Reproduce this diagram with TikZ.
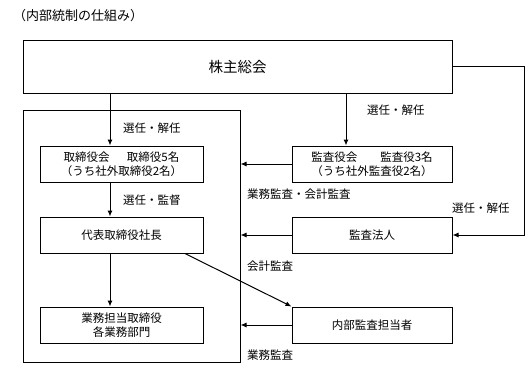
\documentclass[tikz,border=0pt]{standalone}
\usepackage{fontspec}
\setmainfont{Noto Sans CJK JP}
\usetikzlibrary{arrows.meta}
\tikzset{
  box/.style={draw=black, line width=1pt, rectangle, inner sep=0pt, align=center,
    font=\fontsize{11.5}{13.5}\selectfont},
  lbl/.style={anchor=west, inner sep=0pt, font=\fontsize{11.5}{13.5}\selectfont},
  conn/.style={draw=black, line width=1pt},
  arr/.style={conn, -{Latex[length=6pt,width=5pt]}},
}
\begin{document}
\begin{tikzpicture}[x=1pt,y=-1pt]
\useasboundingbox (0,0) rectangle (530,368);
\node[anchor=west, inner sep=0pt, font=\fontsize{13}{15}\selectfont] (title) at (13,16) {（内部統制の仕組み）};
% boxes
\node[box, minimum width=429pt, minimum height=53pt, font=\fontsize{14.5}{16}\selectfont] (top) at (237.5,66.5) {株主総会};
\node[box, minimum width=217pt, minimum height=252pt] (cont) at (131.5,236) {};
\node[box, minimum width=163pt, minimum height=36pt] (bod) at (121.5,164) {取締役会\hspace{1.5em}取締役5名\\（うち社外取締役2名）};
\node[box, minimum width=163pt, minimum height=36pt] (ceo) at (121.5,235) {代表取締役社長};
\node[box, minimum width=163pt, minimum height=36pt] (dept) at (121.5,325) {業務担当取締役\\各業務部門};
\node[box, minimum width=160pt, minimum height=36pt] (kansa) at (372,164) {監査役会\hspace{2em}監査役3名\\（うち社外監査役2名）};
\node[box, minimum width=160pt, minimum height=36pt] (hojin) at (372,235) {監査法人};
\node[box, minimum width=160pt, minimum height=36pt] (naibu) at (372,325) {内部監査担当者};
% helper coordinates
\coordinate (xl) at (110,0);
\coordinate (xr) at (346,0);
\coordinate (xd) at (185,0);
\coordinate (ce) at (524,66.5);
% connectors
\draw[arr] (top.south -| xl) -- (bod.north -| xl);
\draw[arr] (bod.south -| xl) -- (ceo.north -| xl);
\draw[arr] (ceo.south -| xl) -- (dept.north -| xl);
\draw[arr] (top.south -| xr) -- (kansa.north -| xr);
\draw[arr] (kansa.west) -- (kansa.west -| cont.east);
\draw[arr] (hojin.west) -- (hojin.west -| cont.east);
\draw[arr] (naibu.west) -- (naibu.west -| cont.east);
\draw[arr] (top.east) -- (ce) |- (hojin.east);
\draw[arr] (ceo.south -| xd) -- (naibu.north west);
% labels
\node[lbl] (l1) at (123,128) {選任・解任};
\node[lbl] (l2) at (123,200) {選任・監督};
\node[lbl] (l3) at (367,110) {選任・解任};
\node[lbl] (l4) at (247,194) {業務監査・会計監査};
\node[lbl] (l5) at (452,208) {選任・解任};
\node[lbl] (l6) at (247,266) {会計監査};
\node[lbl] (l7) at (247,355) {業務監査};
\end{tikzpicture}
\end{document}
